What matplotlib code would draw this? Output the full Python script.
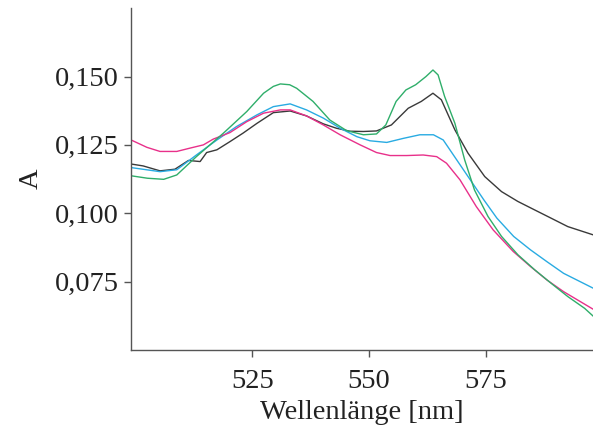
import numpy as np
import matplotlib.pyplot as plt
from matplotlib.ticker import FuncFormatter

plt.rcParams['font.family'] = ['Liberation Serif', 'DejaVu Serif']

# wavelength (nm) and absorbance
wl_green = [499, 502.5, 506, 508.8, 513, 518.8, 523.8, 527.4, 529.5, 531, 533, 534.5, 538,
            541.6, 545.2, 548.8, 551.6, 553.6, 555.8, 557.9, 560, 562.2, 563.7, 564.8, 566.2,
            568.4, 570.5, 572.6, 575.5, 578.4, 581.9, 585.5, 589, 592.6, 596.2, 598]
a_green = [0.1137, 0.1128, 0.1124, 0.1140, 0.1207, 0.1293, 0.1372, 0.1439, 0.1464, 0.1473,
           0.1470, 0.1457, 0.1409, 0.1341, 0.1302, 0.1287, 0.1290, 0.1323, 0.1409, 0.1451,
           0.1470, 0.1500, 0.1524, 0.1506, 0.1427, 0.1329, 0.1195, 0.1085, 0.0988, 0.0915,
           0.0848, 0.0793, 0.0744, 0.0695, 0.0652, 0.0624]

wl_black = [499, 501.6, 505.2, 508.4, 511.3, 513.8, 515.2, 517.4, 520.2, 523, 526, 529.5,
            533.1, 536.6, 540.2, 543, 545.9, 548.8, 551.6, 554.8, 558.4, 561.2, 563.7, 565.5,
            568.4, 571.2, 574.8, 578.4, 581.9, 585.5, 589, 592.6, 598]
a_black = [0.1180, 0.1173, 0.1155, 0.1161, 0.1193, 0.1189, 0.1222, 0.1232, 0.1262, 0.1293,
           0.1329, 0.1368, 0.1374, 0.1356, 0.1327, 0.1311, 0.1300, 0.1299, 0.1301, 0.1323,
           0.1384, 0.1409, 0.1439, 0.1415, 0.1305, 0.1220, 0.1134, 0.1079, 0.1043, 0.1012,
           0.0982, 0.0951, 0.0921]

wl_blue = [499, 505.2, 508.8, 513, 517.4, 521.6, 526, 529.5, 533.1, 536.6, 540.2, 543.8,
           547.4, 550.2, 553.8, 557.4, 560.9, 563.8, 565.9, 568.8, 571.7, 574.6, 577.4,
           581, 584.6, 588.1, 591.7, 598]
a_blue = [0.1167, 0.1152, 0.1159, 0.1213, 0.1268, 0.1317, 0.1360, 0.1390, 0.1400, 0.1378,
          0.1348, 0.1311, 0.1280, 0.1265, 0.1259, 0.1274, 0.1287, 0.1287, 0.1268, 0.1195,
          0.1122, 0.1049, 0.0982, 0.0915, 0.0866, 0.0823, 0.0780, 0.0726]

wl_pink = [499, 502.4, 505.2, 508.8, 511.6, 514.5, 516.6, 520.2, 523.8, 527.4, 531, 533.1,
           536.6, 540.2, 543.8, 548.1, 551.6, 554.5, 558.1, 561.6, 564.5, 566.6, 569.5,
           573, 576.6, 580.9, 584.6, 588.1, 591.7, 598]
a_pink = [0.1268, 0.1241, 0.1226, 0.1226, 0.1238, 0.1250, 0.1271, 0.1295, 0.1335, 0.1366,
          0.1378, 0.1378, 0.1356, 0.1323, 0.1287, 0.1250, 0.1222, 0.1211, 0.1211, 0.1213,
          0.1207, 0.1183, 0.1122, 0.1024, 0.0939, 0.0860, 0.0805, 0.0756, 0.0713, 0.0649]

fig = plt.figure(figsize=(5.93, 4.33), dpi=100)
ax = fig.add_axes([0.221, 0.192, 0.779, 0.789])

ax.plot(wl_black, a_black, color='#3a3a3a', lw=1)
ax.plot(wl_blue, a_blue, color='#29abe2', lw=1)
ax.plot(wl_pink, a_pink, color='#e8308a', lw=1)
ax.plot(wl_green, a_green, color='#2fae6a', lw=1)

ax.set_xlim(499, 598)
ax.set_ylim(0.05, 0.175)
ax.set_xticks([525, 550, 575])
ax.set_yticks([0.075, 0.100, 0.125, 0.150])
ax.yaxis.set_major_formatter(FuncFormatter(lambda v, p: f'{v:.3f}'.replace('.', ',')))

for s in ['top', 'right']:
    ax.spines[s].set_visible(False)
for s in ['left', 'bottom']:
    ax.spines[s].set_color('#555555')
    ax.spines[s].set_linewidth(1)
ax.tick_params(direction='out', length=5, width=1, color='#555555',
               labelsize=20.5, labelcolor='#222222', pad=4)
ax.tick_params(axis='x', pad=9)

ax.set_xlabel('Wellenlänge [nm]', fontsize=20.5, color='#222222', labelpad=4)
ax.set_ylabel('A', fontsize=20.5, color='#222222', labelpad=8)

fig.savefig('out.png', dpi=100)
